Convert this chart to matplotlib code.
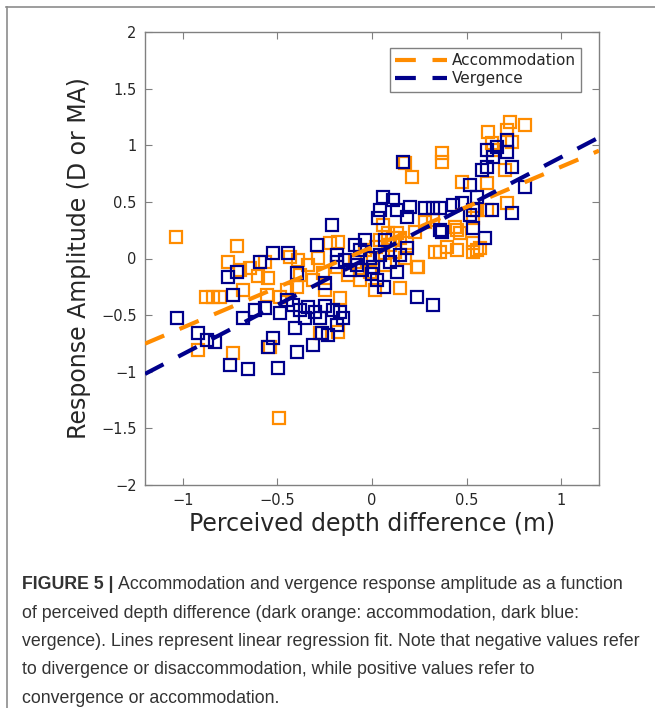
import numpy as np
import matplotlib as mpl
mpl.use('Agg')
import matplotlib.pyplot as plt
from matplotlib.lines import Line2D

# accommodation responses (perceived depth m, amplitude D)
acc_x = [-1.037, -0.714, -0.762, -0.698, -0.646, -0.603, -0.550, -0.878, -0.841, -0.804,
         -0.683, -0.556, -0.487, -0.450, -0.397, -0.392, -0.434, -0.312, -0.259, -0.185,
         -0.222, -0.180, -0.169, -0.275, -0.180, 0.005, 0.085, 0.132, 0.185, 0.238,
         0.148, 0.016, 0.333, 0.397, 0.466, 0.534, 0.556, -0.921, -0.735, -0.540,
         -0.492, 0.714, 0.608, 0.730, 0.810, 0.614, 0.714, 0.741, 0.635, 0.370,
         0.370, 0.175, 0.212, 0.476, 0.608, 0.556, 0.323, 0.280, 0.439, 0.243,
         0.450, 0.534, 0.571, 0.360, 0.640, 0.534, 0.042, 0.095, 0.148, 0.122,
         -0.037, -0.090, -0.127, -0.063, 0.069, 0.175, -0.339, -0.286, -0.381, -0.566,
         -0.249, 0.228, 0.058, 0.450, 0.704, 0.020, -0.010, 0.110]
acc_y = [0.190, 0.110, -0.031, -0.102, -0.084, -0.155, -0.172, -0.340, -0.340, -0.340,
         -0.278, -0.322, -0.340, -0.278, -0.252, -0.013, 0.013, -0.190, -0.128, -0.075,
         0.137, 0.146, -0.349, -0.658, -0.649, 0.004, 0.225, 0.225, 0.137, -0.075,
         -0.260, -0.278, 0.057, 0.102, 0.225, 0.137, 0.075, -0.808, -0.834, -0.781,
         -1.408, 0.490, 0.428, 1.205, 1.179, 1.117, 1.135, 1.029, 1.020, 0.932,
         0.852, 0.843, 0.720, 0.675, 0.667, 0.428, 0.340, 0.322, 0.278, -0.075,
         0.252, 0.057, 0.093, 0.057, 0.958, 0.358, 0.163, 0.119, 0.181, 0.057,
         0.075, -0.031, -0.146, -0.190, -0.057, 0.004, -0.057, 0.004, -0.146, -0.031,
         -0.278, 0.234, 0.296, 0.075, 0.781, 0.100, -0.120, 0.180]

# vergence responses (perceived depth m, amplitude MA)
verg_x = [0.164, 0.608, 0.661, 0.714, 0.714, 0.640, 0.608, 0.582, 0.741, 0.810,
          0.519, 0.556, 0.741, 0.323, 0.360, 0.429, 0.058, 0.111, 0.042, 0.132,
          0.201, 0.280, 0.534, 0.635, 0.185, 0.032, -0.212, 0.360, 0.534, 0.598,
          -0.291, -0.524, -0.444, -0.593, -0.714, -0.762, -0.397, -0.735, -0.185, -0.185,
          -0.249, -0.063, -0.011, 0.042, 0.095, 0.148, -0.079, 0.005, 0.026, 0.132,
          0.185, 0.238, 0.323, -1.032, -0.921, -0.873, -0.831, -0.683, -0.619, -0.566,
          -0.487, -0.418, -0.381, -0.339, -0.302, -0.249, -0.206, -0.169, -0.407, -0.550,
          -0.524, -0.397, -0.312, -0.265, -0.233, -0.185, -0.153, -0.751, -0.656, -0.497,
          -0.037, -0.090, 0.069, -0.053, -0.143, -0.116, -0.450, -0.275, -0.354, 0.519,
          0.476, 0.370, 0.064, 0.000]
verg_y = [0.852, 0.958, 0.984, 1.046, 0.940, 0.896, 0.808, 0.781, 0.808, 0.631,
          0.649, 0.543, 0.402, 0.446, 0.446, 0.472, 0.543, 0.517, 0.428, 0.428,
          0.455, 0.446, 0.428, 0.428, 0.366, 0.358, 0.296, 0.252, 0.269, 0.181,
          0.119, 0.049, 0.049, -0.031, -0.119, -0.163, -0.128, -0.322, 0.031, -0.031,
          -0.216, 0.075, 0.004, 0.031, -0.031, 0.031, -0.057, -0.075, -0.190, -0.119,
          0.093, -0.340, -0.411, -0.525, -0.658, -0.720, -0.737, -0.525, -0.455, -0.437,
          -0.481, -0.411, -0.455, -0.428, -0.472, -0.419, -0.455, -0.472, -0.614, -0.781,
          -0.702, -0.826, -0.764, -0.658, -0.675, -0.587, -0.525, -0.940, -0.976, -0.967,
          0.163, 0.119, 0.163, -0.102, -0.013, -0.102, -0.366, -0.525, -0.525, 0.384,
          0.490, 0.230, -0.250, -0.140]

# linear regression fits (slope, intercept)
acc_fit = (0.71, 0.10)
verg_fit = (0.87, 0.025)

orange = '#FF8C00'
navy = '#00008B'

fig = plt.figure(figsize=(6.55, 7.08), dpi=100)
ax = fig.add_axes([145/655, 1-485/708, 454/655, 453/708])

ax.plot(acc_x, acc_y, 's', ms=9, mfc='none', mec=orange, mew=1.6, zorder=2)
ax.plot(verg_x, verg_y, 's', ms=9, mfc='none', mec=navy, mew=1.6, zorder=3)

xl = np.array([-1.2, 1.2])
ax.plot(xl, acc_fit[0]*xl+acc_fit[1], '--', color=orange, lw=3, dashes=(5, 4),
        label='Accommodation', zorder=4)
ax.plot(xl, verg_fit[0]*xl+verg_fit[1], '--', color=navy, lw=3, dashes=(5, 4),
        label='Vergence', zorder=5)

ax.set_xlim(-1.2, 1.2)
ax.set_ylim(-2, 2)
ax.set_xticks([-1, -0.5, 0, 0.5, 1])
ax.set_xticklabels(['\u22121', '\u22120.5', '0', '0.5', '1'])
ax.set_yticks(np.arange(-2, 2.01, 0.5))
ax.set_yticklabels(['\u22122', '\u22121.5', '\u22121', '\u22120.5', '0', '0.5', '1', '1.5', '2'])
ax.tick_params(direction='in', length=5, width=0.8, top=True, right=True,
               color='#808080', labelcolor='#262626', labelsize=10.5, pad=6)
for s in ax.spines.values():
   s.set_color('#808080')
   s.set_linewidth(1.0)

ax.set_xlabel('Perceived depth difference (m)', fontsize=17, color='#262626', labelpad=3)
ax.set_ylabel('Response Amplitude (D or MA)', fontsize=17, color='#262626', labelpad=7)

leg = ax.legend(loc='upper right', bbox_to_anchor=(0.96, 0.965), borderaxespad=0,
                fontsize=11, handlelength=3.4, handletextpad=0.3, fancybox=False,
                framealpha=1, edgecolor='#808080', borderpad=0.35, labelspacing=0.2)
leg.get_frame().set_linewidth(1.0)
for t in leg.get_texts():
   t.set_color('#262626')

# page frame
fig.add_artist(Line2D([6/655, 1], [1-7/708, 1-7/708], color='#8c8c8c', lw=1.2))
fig.add_artist(Line2D([7/655, 7/655], [1-7/708, 0], color='#8c8c8c', lw=1.2))

# caption
cap_font = 'Liberation Sans'
cap_size = 12.8
lines = ['Accommodation and vergence response amplitude as a function',
         'of perceived depth difference (dark orange: accommodation, dark blue:',
         'vergence). Lines represent linear regression fit. Note that negative values refer',
         'to divergence or disaccommodation, while positive values refer to',
         'convergence or accommodation.']
baselines = [589, 617.5, 646, 674.5, 703]
fig.canvas.draw()
r = fig.canvas.get_renderer()
b = fig.text(22/655, 1-baselines[0]/708, 'FIGURE 5 | ', fontsize=cap_size, fontweight='bold',
             family=cap_font, color='#333333', va='baseline')
bw = b.get_window_extent(renderer=r).width
for i, line in enumerate(lines):
   x0 = 22 + (bw if i == 0 else 0)
   fig.text(x0/655, 1-baselines[i]/708, line, fontsize=cap_size, family=cap_font,
            color='#333333', va='baseline')

fig.savefig('out.png', dpi=100)
